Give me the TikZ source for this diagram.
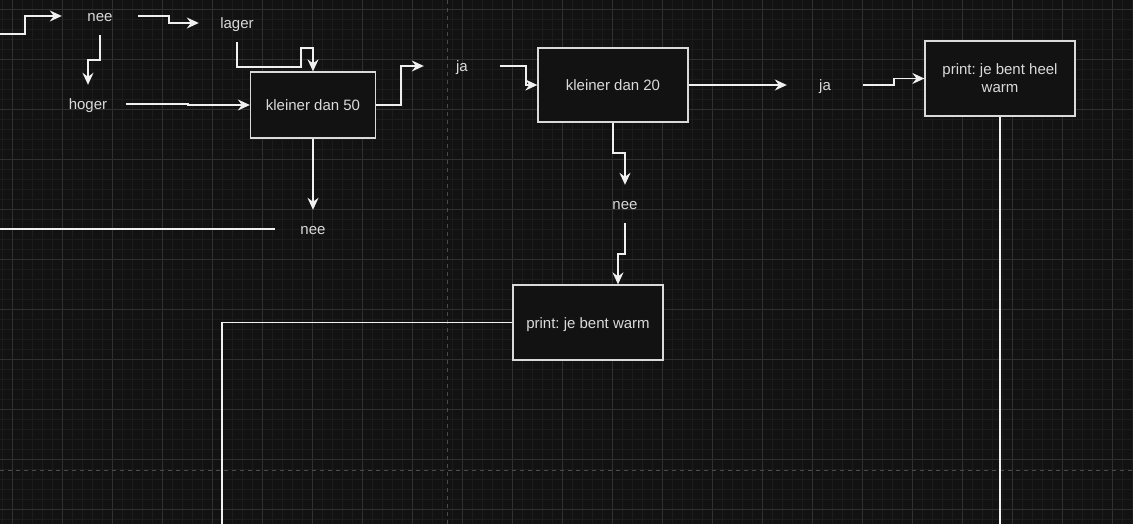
\documentclass[tikz,border=0pt]{standalone}
\usepackage{fontspec}
\setmainfont{Liberation Sans}
\frenchspacing
\usetikzlibrary{calc,arrows.meta}

\definecolor{canvas}{HTML}{121212}
\definecolor{minorline}{HTML}{1C1C1C}
\definecolor{majorline}{HTML}{303030}
\definecolor{pageline}{HTML}{4A4A4A}
\definecolor{wire}{HTML}{F0F0F0}
\definecolor{ink}{HTML}{DADADA}

\tikzset{
  lbl/.style={text=ink,minimum width=76,minimum height=38,inner sep=0pt,text height=14pt,text depth=3pt,font=\fontsize{15}{18}\selectfont},
  blok/.style={draw=ink,fill=canvas,line width=1.3pt,text=ink,inner sep=0pt,align=center,font=\fontsize{15}{18}\selectfont},
  wirebase/.style={draw=wire,line width=1.3pt},
  arr/.style={wirebase,-{Stealth[length=12pt,width=11pt,inset=4pt]}}
}

\begin{document}
\begin{tikzpicture}[x=1pt,y=-1pt]
        \useasboundingbox (0,0) rectangle (1133,524);
        \fill[canvas] (0,0) rectangle (1133,524);
        % grid
        \foreach \gx in {2,12,...,1132} \draw[minorline,line width=0.8pt] (\gx,0)--(\gx,524);
        \foreach \gy in {9,19,...,519} \draw[minorline,line width=0.8pt] (0,\gy)--(1133,\gy);
        \foreach \gx in {12,62,...,1112} \draw[majorline,line width=0.8pt] (\gx,0)--(\gx,524);
        \foreach \gy in {9,59,...,509} \draw[majorline,line width=0.8pt] (0,\gy)--(1133,\gy);
        \draw[pageline,line width=0.8pt,dash pattern=on 4pt off 4pt] (447,0)--(447,524);
        \draw[pageline,line width=0.8pt,dash pattern=on 4pt off 4pt] (0,470)--(1133,470);
        % boxes
        \node[blok,text height=14pt,text depth=3pt,minimum width=125,minimum height=66] (k50) at (313,105) {kleiner dan 50};
        \node[blok,text height=14pt,text depth=3pt,minimum width=150,minimum height=74] (k20) at (613,85) {kleiner dan 20};
        \node[blok,text height=14pt,text depth=3pt,minimum width=150,minimum height=75] (warm) at (588,322.5) {print: je bent warm};
        \node[blok,minimum width=150,minimum height=75] (heel) at (1000,78.5) {print: je bent heel\\warm};
        % labels
        \node[lbl] (nee1) at (100,16) {nee};
        \node[lbl] (lager) at (237,23) {lager};
        \node[lbl] (hoger) at (88,104) {hoger};
        \node[lbl] (nee2) at (313,229) {nee};
        \node[lbl] (ja1) at (462,66) {ja};
        \node[lbl] (nee3) at (625,204) {nee};
        \node[lbl] (ja2) at (825,85) {ja};
        \coordinate (inL) at (0,34);
        \coordinate (lineL) at (0,229);
        \coordinate (warmEnd) at (222,524);
        \coordinate (heelEnd) at (1000,524);
        % connectors
        \draw[arr] (inL)--(25,34) |- (nee1.west);
        \draw[arr] (nee1.east)--(169,16) |- (lager.west);
        \draw[arr] (nee1.south)--(100,60) -| (hoger.north);
        \draw[arr] (hoger.east)--(188,104) |- (k50.west);
        \draw[arr] (lager.south)--(237,67)--(301,67)--(301,48) -| (k50.north);
        \draw[arr] (k50.south)--(nee2.north);
        \draw[wirebase] (lineL)--(nee2.west);
        \draw[arr] (k50.east)--(401,105) |- (ja1.west);
        \draw[arr] (ja1.east)--(526,66) |- (k20.west);
        \draw[arr] (k20.south)--(613,153) -| (nee3.north);
        \draw[arr] (nee3.south)--(625,254) -| ($(warm.north)+(30,0)$);
        \draw[arr] (k20.east)--(ja2.west);
        \draw[arr] (ja2.east)--(894,85) |- (heel.west);
        \draw[wirebase] (warm.west) -| (warmEnd);
        \draw[wirebase] (heel.south)--(heelEnd);
      \end{tikzpicture}
\end{document}
